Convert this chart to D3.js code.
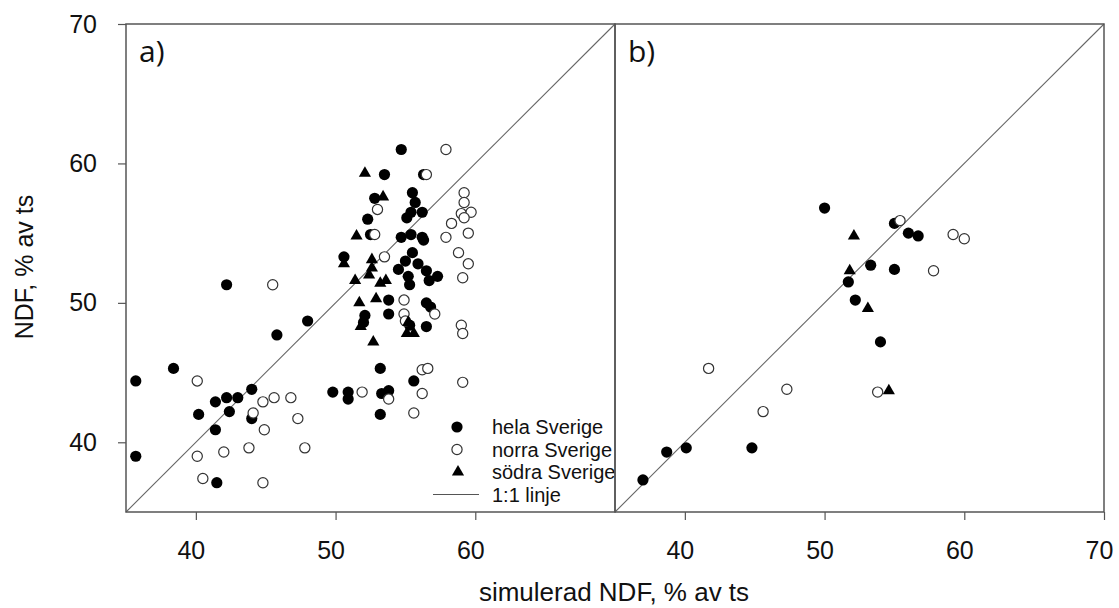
<!DOCTYPE html>
<html>
<head>
<meta charset="utf-8">
<script src="https://cdn.jsdelivr.net/npm/d3@7"></script>
<style>
  body { margin: 0; background: #fff; }
  svg text { font-family: "Liberation Sans", Arial, sans-serif; fill: #111; }
</style>
</head>
<body>
<div id="chart"></div>
<script>
// panel a) hela / norra / södra Sverige  [simulerad, observerad]
const helaA = [[54.7,61.0],[53.5,59.2],[56.3,59.2],[55.5,57.9],[52.8,57.5],[55.7,57.2],[55.4,56.5],[55.1,56.1],
  [56.2,56.5],[52.3,56.0],[52.5,54.9],[54.7,54.7],[55.4,54.9],[56.2,54.7],[56.3,54.5],[50.6,53.3],[55.5,53.6],
  [55.0,53.0],[55.9,52.8],[54.5,52.4],[56.5,52.3],[55.2,51.9],[57.3,51.9],[56.7,51.6],[55.3,51.3],[42.2,51.3],
  [53.8,50.2],[56.5,50.0],[56.8,49.7],[52.1,49.1],[53.8,49.2],[48.0,48.7],[52.0,48.6],[55.3,48.4],[56.5,48.3],
  [45.8,47.7],[53.2,45.3],[55.6,44.4],[49.8,43.6],[50.9,43.6],[50.9,43.1],[53.3,43.5],[53.8,43.7],[53.2,42.0],
  [38.4,45.3],[35.7,44.4],[44.0,43.8],[41.4,42.9],[42.2,43.2],[43.0,43.2],[40.2,42.0],[42.4,42.2],[44.0,41.7],
  [41.4,40.9],[35.7,39.0],[41.5,37.1]];
const norraA = [[57.9,61.0],[56.5,59.2],[53.0,56.7],[59.2,57.9],[59.2,57.2],[59.0,56.4],[59.7,56.5],[59.2,56.1],
  [58.3,55.7],[57.9,54.7],[59.5,55.0],[52.8,54.9],[45.5,51.3],[53.5,53.3],[58.8,53.6],[59.5,52.8],[59.1,51.8],
  [54.9,50.2],[57.1,49.2],[54.9,49.2],[55.0,48.7],[59.0,48.4],[59.1,47.8],[56.2,45.2],[56.6,45.3],[59.1,44.3],
  [51.9,43.6],[53.8,43.1],[56.2,43.5],[55.6,42.1],[40.1,44.4],[44.8,42.9],[45.6,43.2],[46.8,43.2],[44.1,42.1],
  [47.3,41.7],[44.9,40.9],[43.8,39.6],[47.8,39.6],[40.1,39.0],[42.0,39.3],[40.5,37.4],[44.8,37.1]];
const sodraA = [[52.1,59.3],[53.4,57.6],[51.5,54.8],[50.6,52.8],[52.6,53.1],[52.6,52.5],[52.4,52.0],[51.4,51.6],
  [53.2,51.4],[53.6,51.6],[51.7,50.0],[52.9,50.3],[51.8,48.3],[55.2,48.6],[55.1,47.8],[55.6,47.8],[52.7,47.2]];

// panel b)
const helaB = [[37.0,37.3],[38.7,39.3],[40.1,39.6],[44.8,39.6],[50.0,56.8],[55.0,55.7],[56.0,55.0],[56.7,54.8],
  [53.3,52.7],[55.0,52.4],[51.7,51.5],[52.2,50.2],[54.0,47.2]];
const norraB = [[55.4,55.9],[59.2,54.9],[60.0,54.6],[57.8,52.3],[41.7,45.3],[47.3,43.8],[45.6,42.2],[53.8,43.6]];
const sodraB = [[52.1,54.8],[51.8,52.3],[53.1,49.6],[54.6,43.7]];

const domain = [35, 70];
const yTicks = [40, 50, 60, 70];
const xTicksA = [40, 50, 60];
const xTicksB = [40, 50, 60, 70];
const legendLabels = ["hela Sverige", "norra Sverige", "södra Sverige", "1:1 linje"];

let width = 1119, height = 608;
const yTop = 24, yBottom = 512;
const panels = [
  { id: "a", label: "a)", x0: 126, x1: 615, hela: helaA, norra: norraA, sodra: sodraA, ticks: xTicksA },
  { id: "b", label: "b)", x0: 615, x1: 1104, hela: helaB, norra: norraB, sodra: sodraB, ticks: xTicksB }
];

const svg = d3.select("#chart").append("svg")
  .attr("width", width).attr("height", height);

const yScale = d3.scaleLinear().domain(domain).range([yBottom, yTop]);
const tri = d3.symbol(d3.symbolTriangle, 64);
const frame = "#555";

panels.forEach(p => {
  const xScale = d3.scaleLinear().domain(domain).range([p.x0, p.x1]);
  const g = svg.append("g");

  g.append("clipPath").attr("id", "clip-" + p.id)
    .append("rect").attr("x", p.x0).attr("y", yTop).attr("width", p.x1 - p.x0).attr("height", yBottom - yTop);

  // x axis
  const ax = g.append("g")
    .attr("transform", `translate(0,${yBottom})`)
    .call(d3.axisBottom(xScale).tickValues(p.ticks).tickSize(8));
  ax.select(".domain").remove();
  ax.selectAll(".tick line").attr("stroke", frame).attr("stroke-width", 1.2);
  ax.selectAll(".tick text")
    .attr("y", 47).attr("dy", null).attr("x", -5)
    .style("font-size", "25px").attr("fill", "#111");

  // 1:1 line
  g.append("line")
    .attr("x1", xScale(35)).attr("y1", yScale(35))
    .attr("x2", xScale(70)).attr("y2", yScale(70))
    .attr("stroke", "#666").attr("stroke-width", 1.1);

  // points
  const pts = g.append("g").attr("clip-path", `url(#clip-${p.id})`);
  pts.selectAll(".hela").data(p.hela).enter().append("circle")
    .attr("class", "hela")
    .attr("cx", d => xScale(d[0])).attr("cy", d => yScale(d[1]))
    .attr("r", 5.6).attr("fill", "#000");
  pts.selectAll(".norra").data(p.norra).enter().append("circle")
    .attr("class", "norra")
    .attr("cx", d => xScale(d[0])).attr("cy", d => yScale(d[1]))
    .attr("r", 5.1).attr("fill", "#fff").attr("stroke", "#333").attr("stroke-width", 1.2);
  pts.selectAll(".sodra").data(p.sodra).enter().append("path")
    .attr("class", "sodra")
    .attr("d", tri)
    .attr("transform", d => `translate(${xScale(d[0])},${yScale(d[1])})`)
    .attr("fill", "#000");

  // frame
  g.append("rect")
    .attr("x", p.x0).attr("y", yTop).attr("width", p.x1 - p.x0).attr("height", yBottom - yTop)
    .attr("fill", "none").attr("stroke", frame).attr("stroke-width", 1.5);

  g.append("text")
    .attr("x", p.x0 + 13).attr("y", 62)
    .style("font-family", "'Open Sans', sans-serif")
    .style("font-size", "30px")
    .text(p.label);

  if (p.id === "a") {
    // y axis
    const ay = svg.append("g")
      .attr("transform", `translate(${p.x0},0)`)
      .call(d3.axisLeft(yScale).tickValues(yTicks).tickSize(8).tickPadding(21));
    ay.select(".domain").remove();
    ay.selectAll(".tick line").attr("stroke", frame).attr("stroke-width", 1.2);
    ay.selectAll(".tick text").style("font-size", "25px").attr("fill", "#111");

    // legend
    const leg = g.append("g").attr("clip-path", `url(#clip-${p.id})`);
    const lx = 457, tx = 492, ly = [427, 449.5, 472, 494.5];
    leg.append("circle").attr("cx", lx).attr("cy", ly[0]).attr("r", 5.6).attr("fill", "#000");
    leg.append("circle").attr("cx", lx).attr("cy", ly[1]).attr("r", 5.1)
      .attr("fill", "#fff").attr("stroke", "#333").attr("stroke-width", 1.2);
    leg.append("path").attr("d", tri).attr("transform", `translate(${lx + 1},${ly[2]})`).attr("fill", "#000");
    leg.append("line").attr("x1", 433).attr("x2", 479).attr("y1", ly[3]).attr("y2", ly[3])
      .attr("stroke", "#555").attr("stroke-width", 1.2);
    leg.selectAll(".legtext").data(legendLabels).enter().append("text")
      .attr("class", "legtext")
      .attr("x", tx).attr("y", (d, i) => ly[i] + 7)
      .style("font-size", "20px")
      .text(d => d);
  }
});

// axis titles
svg.append("text")
  .attr("x", 614).attr("y", 601)
  .attr("text-anchor", "middle")
  .style("font-size", "26px")
  .text("simulerad NDF, % av ts");

svg.append("text")
  .attr("transform", "translate(33,267) rotate(-90)")
  .attr("text-anchor", "middle")
  .style("font-size", "25px")
  .text("NDF, % av ts");
</script>
</body>
</html>
